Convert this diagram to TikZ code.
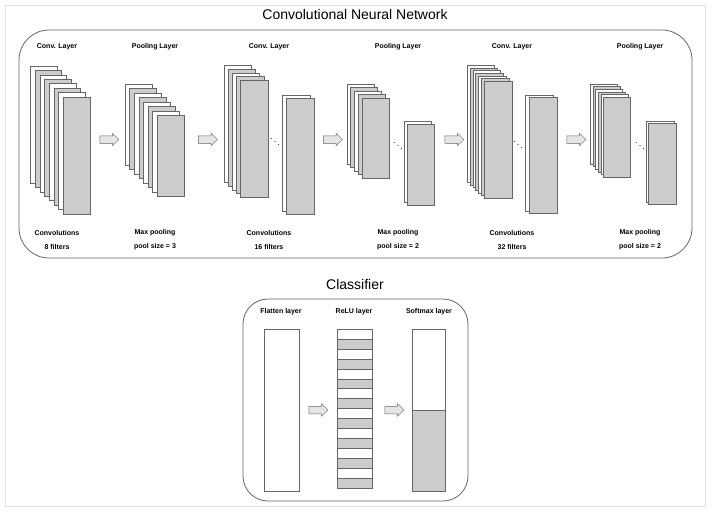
\documentclass[tikz,border=0pt]{standalone}
\usepackage{fontspec}
\setmainfont{Liberation Sans}
\usetikzlibrary{shapes.arrows}
\colorlet{mapgray}{black!20}
\tikzset{
	fmap/.style={draw=black!60, line width=0.5pt},
	panel/.style={draw=black!60, line width=0.8pt, rounded corners=30pt},
	blockarrow/.style={single arrow, draw=black!60, fill=black!10, line width=0.5pt, inner sep=0pt, inner ysep=3.5pt, single arrow head extend=2.5pt, minimum height=19pt},
	lbl/.style={font=\bfseries\fontsize{7}{8}\selectfont, inner sep=0pt},
	ttl/.style={font=\fontsize{14}{16}\selectfont, inner sep=0pt},
	dotsnode/.style={font=\fontsize{9}{10}\selectfont, inner sep=0pt}
}
\def\fmapstack(#1,#2)(#3:#4)(#5,#6)#7{\foreach \fillcol [count=\i from 0] in {#7} \draw[fmap, fill=\fillcol] (#1+\i*#3, #2+\i*#4) rectangle ++(#5,#6);}

\begin{document}
\begin{tikzpicture}[x=1pt, y=-1pt]
		%%%%% START %%%%%
		\useasboundingbox (0,0) rectangle (715,515);
		\draw[black!12] (5,5) rectangle (705,506);
		
		%%%%% CNN %%%%%
		\node[ttl] (cnntitle) at (355,14) {Convolutional Neural Network};
		\draw[panel] (19,30) rectangle (692,258);
		
		\node[lbl] (conv1) at (57,47) {Conv. Layer};
		\fmapstack(30.5,66)(4.7:4.4)(26.5,117){white,mapgray,white,mapgray,white,mapgray,white,mapgray}
		\node[lbl] (conv1a) at (57,233) {Convolutions};
		\node[lbl] (conv1b) at (57,246.5) {8 filters};
		
		\node[blockarrow] (arr1) at (107.5,139.5) {};
		
		\node[lbl] (pool1) at (155,47) {Pooling Layer};
		\fmapstack(125,84)(4.6:4.5)(27,81){white,mapgray,white,mapgray,white,mapgray,white,mapgray}
		\node[lbl] (pool1a) at (155,233) {Max pooling};
		\node[lbl] (pool1b) at (155,246.5) {pool size = 3};
		
		\node[blockarrow] (arr2) at (206,139.5) {};
		
		\node[lbl] (conv2) at (269,47) {Conv. Layer};
		\fmapstack(224,65)(4.1:3.9)(27.5,117){white,mapgray,white,mapgray,mapgray}
		\node[dotsnode] (dots1) at (275,139.5) {$\ddots$};
		\fmapstack(282,95)(4:3.5)(28,116){white,mapgray}
		\node[lbl] (conv2a) at (269,233) {Convolutions};
		\node[lbl] (conv2b) at (269,246.5) {16 filters};
		
		\node[blockarrow] (arr3) at (331,139.5) {};
		
		\node[lbl] (pool2) at (398,47) {Pooling Layer};
		\fmapstack(347,84)(3.7:3.5)(27,80){white,mapgray,white,mapgray,mapgray}
		\node[dotsnode] (dots2) at (398,143) {$\ddots$};
		\fmapstack(404,121)(3:3)(27,81){white,mapgray}
		\node[lbl] (pool2a) at (398,233) {Max pooling};
		\node[lbl] (pool2b) at (398,246.5) {pool size = 2};
		
		\node[blockarrow] (arr4) at (452.5,139.5) {};
		
		\node[lbl] (conv3) at (512,47) {Conv. Layer};
		\fmapstack(467,65.5)(2.9:2.6)(27.5,117){white,mapgray,white,mapgray,white,mapgray,mapgray}
		\node[dotsnode] (dots3) at (518,142) {$\ddots$};
		\fmapstack(525,95.5)(4:2)(28,116){white,mapgray}
		\node[lbl] (conv3a) at (512,233) {Convolutions};
		\node[lbl] (conv3b) at (512,246.5) {32 filters};
		
		\node[blockarrow] (arr5) at (574.5,139.5) {};
		
		\node[lbl] (pool3) at (640,47) {Pooling Layer};
		\fmapstack(590.5,84)(2.6:2.6)(27,80){white,mapgray,white,mapgray,white,mapgray}
		\node[dotsnode] (dots4) at (640,143) {$\ddots$};
		\fmapstack(646,121.5)(2:2)(28,81){white,mapgray}
		\node[lbl] (pool3a) at (640,233) {Max pooling};
		\node[lbl] (pool3b) at (640,246.5) {pool size = 2};
		
		%%%%% CLASSIFIER %%%%%
		\node[ttl] (clftitle) at (355,284) {Classifier};
		\draw[panel, rounded corners=25pt] (243,299) rectangle (468,501);
		
		\node[lbl] (flat) at (281,312) {Flatten layer};
		\draw[fmap, fill=white] (264,329) rectangle (299,491);
		
		\node[blockarrow] (arr6) at (316.5,410) {};
		
		\node[lbl] (relu) at (354,312) {ReLU layer};
		\fmapstack(337,329)(0:9.95)(35,9.95){white,mapgray,white,mapgray,white,mapgray,white,mapgray,white,mapgray,white,mapgray,white,mapgray,white,mapgray}
		
		\node[blockarrow] (arr7) at (392.5,410) {};
		
		\node[lbl] (soft) at (429,312) {Softmax layer};
		\draw[fmap, fill=white] (412,329) rectangle (445,491);
		\draw[fmap, fill=mapgray] (412,410) rectangle (445,491);
		
		%%%%% END %%%%%
\end{tikzpicture}
\end{document}
